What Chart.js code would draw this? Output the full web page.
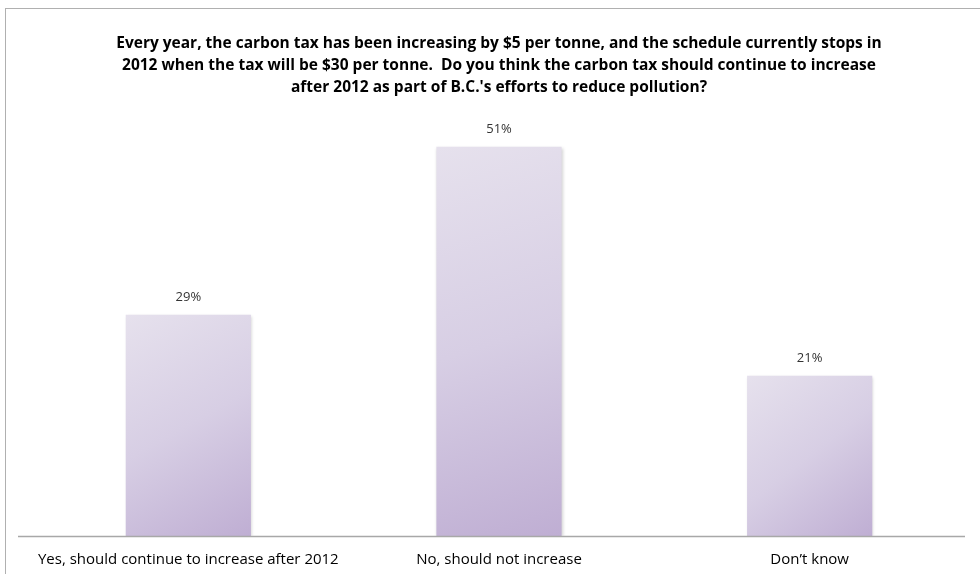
<!DOCTYPE html>
<html>
<head>
<meta charset="utf-8">
<script src="https://cdn.jsdelivr.net/npm/chart.js@4/dist/chart.umd.min.js"></script>
<style>
  html, body { margin: 0; padding: 0; background: #ffffff; }
  #wrap { position: relative; width: 980px; height: 574px; overflow: hidden; }
  #frame { position: absolute; left: 5px; top: 8px; width: 1000px; height: 600px; border: 1.5px solid #b0b0b0; box-sizing: border-box; }
  canvas { position: absolute; left: 0; top: 0; }
</style>
</head>
<body>
<div id="wrap">
  <div id="frame"></div>
  <canvas id="c" width="980" height="574"></canvas>
</div>
<script>
const titleLines = [
  "Every year, the carbon tax has been increasing by $5 per tonne, and the schedule currently stops in",
  "2012 when the tax will be $30 per tonne.  Do you think the carbon tax should continue to increase",
  "after 2012 as part of B.C.'s efforts to reduce pollution?"
];
const categories = [
  "Yes, should continue to increase after 2012",
  "No, should not increase",
  "Don\u2019t know"
];
const values = [29, 51, 21];

const BAR_PCT = 0.403;

function barFill(c) {
  const ch = c.chart;
  const xs = ch.scales.x, ys = ch.scales.y;
  if (!xs || !ys || !ch.chartArea || c.dataIndex === undefined) return '#d6cde3';
  const x = xs.getPixelForValue(c.dataIndex);
  const w = (xs.width / categories.length) * BAR_PCT;
  const top = ys.getPixelForValue(values[c.dataIndex]);
  const base = ys.getPixelForValue(0);
  const g = ch.ctx.createLinearGradient(x - w / 2, top, x + w / 2, base);
  g.addColorStop(0, '#e6e1ed');
  g.addColorStop(0.5, '#d7cee4');
  g.addColorStop(1, '#bfaed3');
  return g;
}

const barShadow = {
  id: 'barShadow',
  beforeDatasetsDraw(chart) {
    const ctx = chart.ctx;
    ctx.save();
    ctx.shadowColor = 'rgba(0,0,0,0.18)';
    ctx.shadowBlur = 3;
    ctx.shadowOffsetX = 1;
    ctx.shadowOffsetY = 1;
  },
  afterDatasetsDraw(chart) {
    chart.ctx.restore();
  }
};

const axisAndLabels = {
  id: 'axisAndLabels',
  afterDatasetsDraw(chart) {
    const ctx = chart.ctx;
    const a = chart.chartArea;
    ctx.save();
    ctx.strokeStyle = '#a8a8a8';
    ctx.lineWidth = 1.5;
    ctx.beginPath();
    ctx.moveTo(18, Math.round(a.bottom) + 0.5);
    ctx.lineTo(965, Math.round(a.bottom) + 0.5);
    ctx.stroke();
    ctx.fillStyle = '#333333';
    ctx.font = '13px "Open Sans", sans-serif';
    ctx.textAlign = 'center';
    ctx.textBaseline = 'middle';
    chart.getDatasetMeta(0).data.forEach((el, i) => {
      ctx.fillText(values[i] + '%', el.x, el.y - 17);
    });
    ctx.restore();
  }
};

new Chart(document.getElementById('c'), {
  type: 'bar',
  data: {
    labels: categories,
    datasets: [{
      data: values,
      backgroundColor: barFill,
      borderWidth: 0,
      categoryPercentage: 1.0,
      barPercentage: BAR_PCT
    }]
  },
  options: {
    responsive: false,
    animation: false,
    events: [],
    layout: { padding: { left: 33, right: 15, top: 0, bottom: -10 } },
    plugins: {
      legend: { display: false },
      tooltip: { enabled: false },
      title: {
        display: true,
        text: titleLines,
        color: '#000000',
        font: { family: '"Open Sans", sans-serif', size: 15.5, weight: 'bold', lineHeight: 1.42 },
        padding: { top: 33, bottom: 21 }
      }
    },
    scales: {
      x: {
        grid: { display: false, drawTicks: false, tickLength: 0 },
        border: { display: false },
        ticks: { color: '#000000', padding: 15, font: { family: '"Open Sans", sans-serif', size: 15, lineHeight: 1.2 }, maxRotation: 0, autoSkip: false }
      },
      y: {
        display: false,
        min: 0,
        max: 54.5
      }
    }
  },
  plugins: [barShadow, axisAndLabels]
});
</script>
</body>
</html>
